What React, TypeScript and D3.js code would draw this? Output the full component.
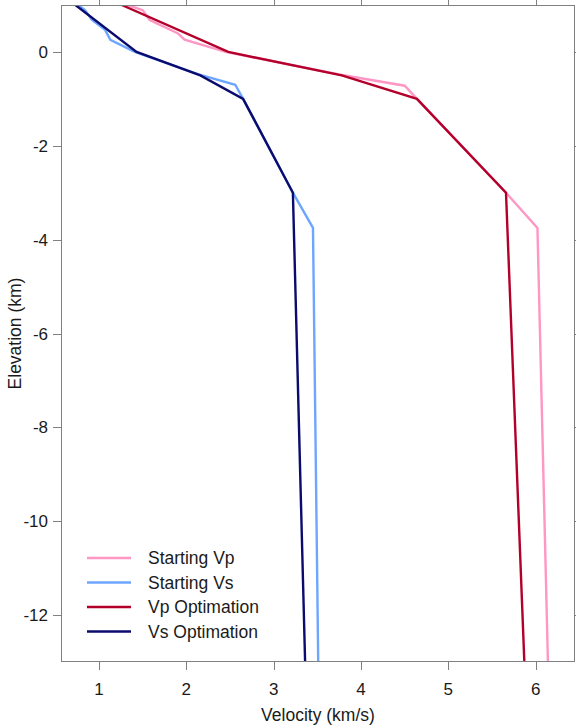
import React, { useEffect, useRef } from "react";
import * as d3 from "d3";

// Data: [velocity (km/s), elevation (km)]
const startingVpVel = [1.33, 1.5, 1.58, 1.9, 1.98, 2.45, 3.75, 4.5, 4.64, 5.66, 6.02, 6.14];
const startingVpElev = [1.0, 0.89, 0.68, 0.4, 0.26, 0.0, -0.48, -0.72, -1.0, -3.0, -3.75, -13];
const startingVsVel = [0.76, 0.84, 0.92, 1.07, 1.13, 1.41, 2.14, 2.56, 2.65, 3.22, 3.45, 3.51];
const startingVsElev = [1.0, 0.89, 0.68, 0.47, 0.26, 0.0, -0.48, -0.7, -1.0, -3.0, -3.75, -13];
const vpOptVel = [1.26, 2.48, 3.78, 4.64, 5.66, 5.87];
const vpOptElev = [1.0, 0.0, -0.5, -1.0, -3.0, -13];
const vsOptVel = [0.73, 1.43, 2.16, 2.65, 3.22, 3.36];
const vsOptElev = [1.0, 0.0, -0.5, -1.0, -3.0, -13];

const seriesNames = ["Starting Vp", "Starting Vs", "Vp Optimation", "Vs Optimation"];
const seriesColors = ["#ff96c4", "#6ea6ff", "#b3002b", "#0b0b6e"];
const xTicks = [1, 2, 3, 4, 5, 6];
const yTicks = [0, -2, -4, -6, -8, -10, -12];

export default function App() {
  const ref = useRef<SVGSVGElement>(null);

  useEffect(() => {
    const svg = d3.select(ref.current);
    svg.selectAll("*").remove();
    const W = 576, H = 728;
    const left = 61, right = 575, top = 5, bottom = 662;
    const x = d3.scaleLinear().domain([0.565, 6.45]).range([left, right]);
    const y = d3.scaleLinear().domain([1, -13]).range([top, bottom]);
    const font = "'Liberation Sans', Arial, sans-serif";
    const axisColor = "#808080";
    const textColor = "#1a1a1a";

    svg.append("rect").attr("width", W).attr("height", H).attr("fill", "#fff");

    const clipId = "plotclip";
    svg.append("clipPath").attr("id", clipId).append("rect")
      .attr("x", left).attr("y", top).attr("width", right - left).attr("height", bottom - top);

    const series = [
      [startingVpVel, startingVpElev],
      [startingVsVel, startingVsElev],
      [vpOptVel, vpOptElev],
      [vsOptVel, vsOptElev],
    ];
    const line = d3.line<[number, number]>().x(d => x(d[0])).y(d => y(d[1]));
    const g = svg.append("g").attr("clip-path", `url(#${clipId})`);
    series.forEach((s, i) => {
      const pts: [number, number][] = s[0].map((v, j) => [v, s[1][j]]);
      g.append("path").attr("d", line(pts) as string)
        .attr("fill", "none").attr("stroke", seriesColors[i])
        .attr("stroke-width", 2.4).attr("stroke-linejoin", "miter");
    });

    // frame
    svg.append("rect").attr("x", left + 0.5).attr("y", top + 0.5)
      .attr("width", right - left - 1).attr("height", bottom - top - 1)
      .attr("fill", "none").attr("stroke", axisColor).attr("stroke-width", 1);

    const tl = 8;
    xTicks.forEach(t => {
      const px = Math.round(x(t)) + 0.5;
      svg.append("line").attr("x1", px).attr("x2", px).attr("y1", bottom).attr("y2", bottom + tl)
        .attr("stroke", axisColor);
      svg.append("line").attr("x1", px).attr("x2", px).attr("y1", top).attr("y2", top - tl)
        .attr("stroke", axisColor);
      svg.append("text").attr("x", x(t)).attr("y", 694.5).attr("text-anchor", "middle")
        .attr("font-family", font).attr("font-size", 17).attr("fill", textColor).text(String(t));
    });
    yTicks.forEach(t => {
      const py = Math.round(y(t)) + 0.5;
      svg.append("line").attr("x1", left - tl).attr("x2", left).attr("y1", py).attr("y2", py)
        .attr("stroke", axisColor);
      svg.append("line").attr("x1", right).attr("x2", right + tl).attr("y1", py).attr("y2", py)
        .attr("stroke", axisColor);
      svg.append("text").attr("x", 48).attr("y", y(t) + 6).attr("text-anchor", "end")
        .attr("font-family", font).attr("font-size", 17).attr("fill", textColor).text(String(t));
    });

    svg.append("text").attr("x", (left + right) / 2).attr("y", 721).attr("text-anchor", "middle")
      .attr("font-family", font).attr("font-size", 17.5).attr("fill", textColor).text("Velocity (km/s)");
    svg.append("text").attr("transform", `translate(21,${(top + bottom) / 2}) rotate(-90)`)
      .attr("text-anchor", "middle")
      .attr("font-family", font).attr("font-size", 17.5).attr("fill", textColor).text("Elevation (km)");

    seriesNames.forEach((name, i) => {
      const ly = 558 + i * 24.5;
      svg.append("line").attr("x1", 87).attr("x2", 131).attr("y1", ly).attr("y2", ly)
        .attr("stroke", seriesColors[i]).attr("stroke-width", 2.5);
      svg.append("text").attr("x", 148).attr("y", ly + 6)
        .attr("font-family", font).attr("font-size", 17.5).attr("fill", textColor).text(name);
    });
  }, []);

  return (
    <svg ref={ref} width={576} height={728}
      style={{ position: "absolute", left: 0, top: 0, display: "block" }} />
  );
}
